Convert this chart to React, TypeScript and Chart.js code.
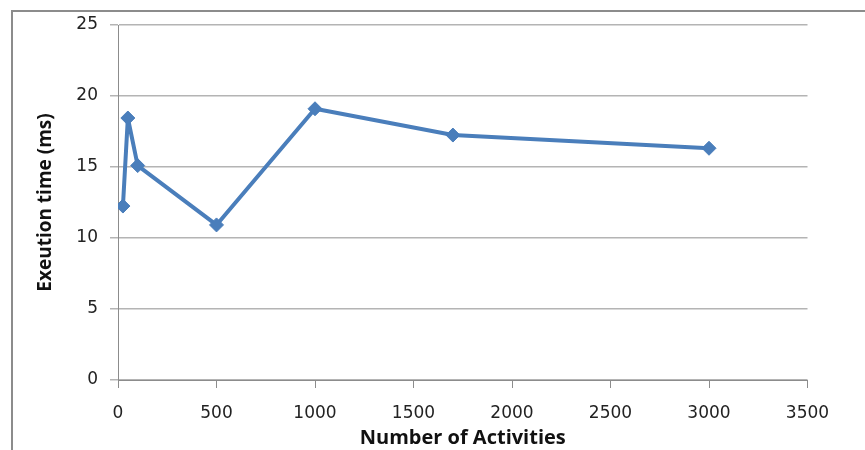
import React, { useEffect, useRef } from "react";
import { Chart, registerables } from "chart.js";

Chart.register(...registerables);

const activities = [25, 50, 100, 500, 1000, 1700, 3000];
const execTimes = [12.25, 18.45, 15.1, 10.92, 19.1, 17.25, 16.32];
const xTicks = [0, 500, 1000, 1500, 2000, 2500, 3000, 3500];
const yTicks = [0, 5, 10, 15, 20, 25];

const frame = {
  id: "frame",
  beforeDraw(chart: any) {
    const ctx = chart.ctx;
    ctx.save();
    ctx.fillStyle = "#ffffff";
    ctx.fillRect(0, 0, chart.width, chart.height);
    ctx.strokeStyle = "#8c8c8c";
    ctx.lineWidth = 2;
    ctx.beginPath();
    ctx.moveTo(12, chart.height + 5);
    ctx.lineTo(12, 11);
    ctx.lineTo(chart.width + 5, 11);
    ctx.stroke();
    ctx.restore();
  },
};

export default function App() {
  const ref = useRef<HTMLCanvasElement>(null);
  useEffect(() => {
    document.body.style.margin = "0";
    const chart = new Chart(ref.current!, {
      type: "line",
      data: {
        datasets: [
          {
            data: activities.map((x, i) => ({ x, y: execTimes[i] })),
            borderColor: "#4a7ebb",
            backgroundColor: "#4a7ebb",
            borderWidth: 4,
            borderJoinStyle: "round",
            pointStyle: "rectRot",
            pointRadius: 7,
            pointBorderWidth: 1,
            tension: 0,
          },
        ],
      },
      options: {
        animation: false,
        responsive: false,
        layout: { padding: { left: 0, top: 25, right: 57.5, bottom: 0 } },
        plugins: { legend: { display: false }, tooltip: { enabled: false } },
        scales: {
          x: {
            type: "linear",
            min: 0,
            max: 3500,
            afterBuildTicks: (s: any) => {
              s.ticks = xTicks.map((v) => ({ value: v }));
            },
            afterFit: (s: any) => {
              s.height = 70;
            },
            grid: {
              drawOnChartArea: false,
              drawTicks: true,
              tickLength: 8,
              color: "#8c8c8c",
            },
            border: { color: "#8c8c8c", width: 1 },
            ticks: {
              padding: 15,
              color: "#222",
              maxRotation: 0,
              callback: (v: any) => String(v),
              font: { family: "DejaVu Sans", size: 17 },
            },
            title: {
              display: true,
              text: "Number of Activities",
              color: "#111",
              font: { family: "Open Sans", size: 20, weight: "bold" },
              padding: { top: 0, bottom: 0 },
            },
          },
          y: {
            min: 0,
            max: 25,
            afterBuildTicks: (s: any) => {
              s.ticks = yTicks.map((v) => ({ value: v }));
            },
            afterFit: (s: any) => {
              s.width = 118;
            },
            grid: {
              drawOnChartArea: true,
              drawTicks: true,
              tickLength: 8,
              color: "#b4b4b4",
              lineWidth: 1.5,
            },
            border: { color: "#8c8c8c", width: 1 },
            ticks: {
              padding: 12,
              color: "#222",
              callback: (v: any) => String(v),
              font: { family: "DejaVu Sans", size: 17 },
            },
            title: {
              display: true,
              text: "Exeution time (ms)",
              color: "#111",
              font: { family: "Open Sans", size: 19, weight: "bold" },
              padding: { top: 34, bottom: 34 },
            },
          },
        },
      },
      plugins: [frame],
    });
    return () => chart.destroy();
  }, []);
  return (
    <div style={{ position: "absolute", left: 0, top: 0, width: 865, height: 450 }}>
      <canvas ref={ref} width={865} height={450} />
    </div>
  );
}
